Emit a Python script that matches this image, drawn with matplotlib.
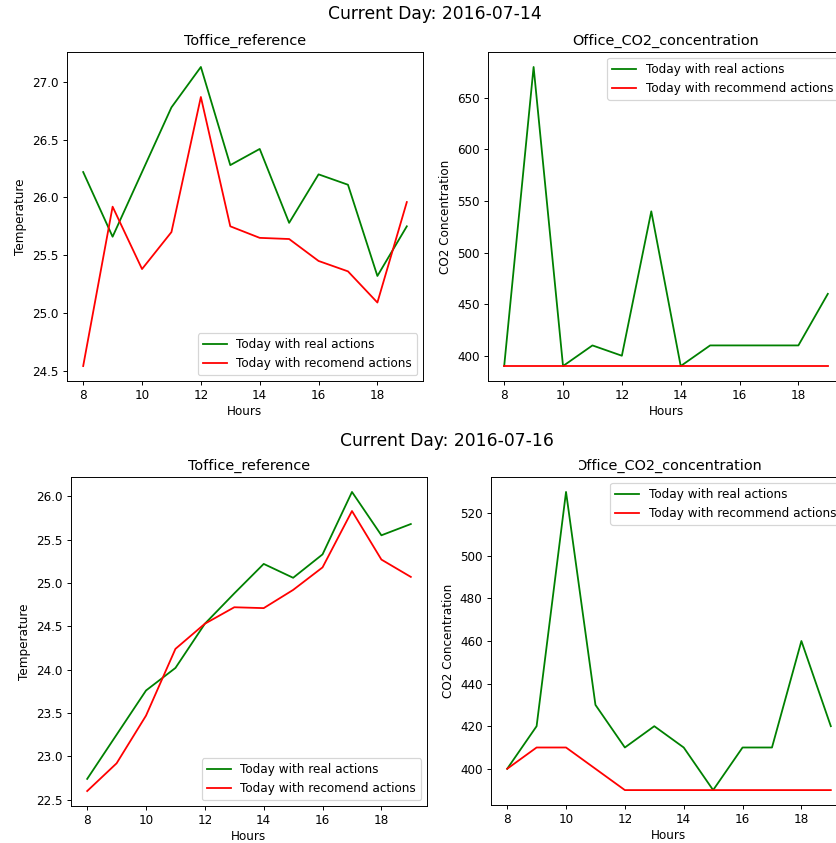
import matplotlib
matplotlib.use('Agg')
import matplotlib.pyplot as plt
from matplotlib.patches import Rectangle

hours = list(range(8, 20))

# Day 1: 2016-07-14
day1_label = 'Current Day: 2016-07-14'
day1_temp_real = [26.22, 25.66, 26.22, 26.78, 27.13, 26.28, 26.42, 25.78, 26.20, 26.11, 25.32, 25.75]
day1_temp_rec = [24.54, 25.92, 25.38, 25.70, 26.87, 25.75, 25.65, 25.64, 25.45, 25.36, 25.09, 25.96]
day1_co2_real = [390, 680, 390, 410, 400, 540, 390, 410, 410, 410, 410, 460]
day1_co2_rec = [390, 390, 390, 390, 390, 390, 390, 390, 390, 390, 390, 390]

# Day 2: 2016-07-16
day2_label = 'Current Day: 2016-07-16'
day2_temp_real = [22.74, 23.25, 23.76, 24.02, 24.53, 24.88, 25.22, 25.06, 25.33, 26.05, 25.55, 25.68]
day2_temp_rec = [22.60, 22.92, 23.47, 24.24, 24.53, 24.72, 24.71, 24.92, 25.18, 25.83, 25.27, 25.07]
day2_co2_real = [400, 420, 530, 430, 410, 420, 410, 390, 410, 410, 460, 420]
day2_co2_rec = [400, 410, 410, 400, 390, 390, 390, 390, 390, 390, 390, 390]

W, H = 836, 843
DPI = 86.4  # screenshot was scaled up ~1.2x from a 72 dpi notebook figure
fig = plt.figure(figsize=(W / DPI, H / DPI), dpi=DPI)
fig.patch.set_facecolor('white')


def px_axes(left, top, right, bottom):
    # pixel box -> figure fraction
    return fig.add_axes([left / W, 1 - bottom / H, (right - left) / W, (bottom - top) / H])


def temp_panel(ax, real, rec):
    ax.plot(hours, real, color='g', label='Today with real actions')
    ax.plot(hours, rec, color='r', label='Today with recomend actions')
    ax.set_title('Toffice_reference')
    ax.set_xlabel('Hours', labelpad=2.3)
    ax.set_ylabel('Temperature')
    ax.set_xticks([8, 10, 12, 14, 16, 18])
    ax.legend(loc='lower right')


def co2_panel(ax, real, rec):
    ax.plot(hours, real, color='g', label='Today with real actions')
    ax.plot(hours, rec, color='r', label='Today with recommend actions')
    ax.set_title('Office_CO2_concentration')
    ax.set_xlabel('Hours', labelpad=2.3)
    ax.set_ylabel('CO2 Concentration')
    ax.set_xticks([8, 10, 12, 14, 16, 18])
    ax.legend(loc='upper right')


# top row
ax1 = px_axes(67, 52, 423, 381)
temp_panel(ax1, day1_temp_real, day1_temp_rec)
ax2 = px_axes(488, 52, 844, 381)
co2_panel(ax2, day1_co2_real, day1_co2_rec)
fig.text(435 / W, 1 - 14 / H, day1_label, fontsize=14.3, ha='center', va='center')

# bottom row
ax3 = px_axes(71, 477, 427, 806)
temp_panel(ax3, day2_temp_real, day2_temp_rec)
ax4 = px_axes(491, 477, 847, 805)
co2_panel(ax4, day2_co2_real, day2_co2_rec)
fig.text(447 / W, 1 - 441 / H, day2_label, fontsize=14.3, ha='center', va='center')

# screenshot seam that clips the left half of the "O" in the lower-right title
seam = Rectangle((432 / W, 1 - 474 / H), 147 / W, 20 / H,
                 transform=fig.transFigure, facecolor='white',
                 edgecolor='none', zorder=10)
fig.add_artist(seam)

plt.savefig('out.png', dpi=DPI, facecolor='white')
